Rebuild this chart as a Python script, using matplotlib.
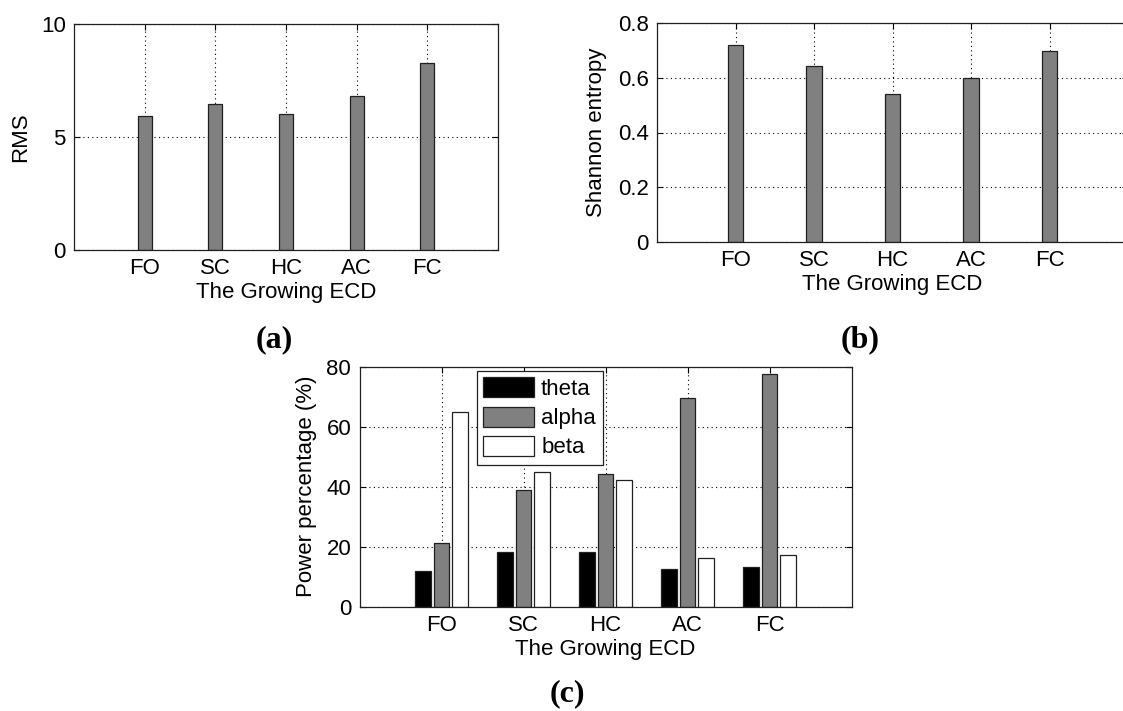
import numpy as np
import matplotlib
matplotlib.use("Agg")
import matplotlib.pyplot as plt

plt.rcParams['font.family'] = ['Liberation Sans', 'DejaVu Sans']

# stages of the growing ECD
stages = ["FO", "SC", "HC", "AC", "FC"]

# (a) RMS per stage
rms = [5.94, 6.44, 6.00, 6.83, 8.29]

# (b) Shannon entropy per stage
entropy = [0.721, 0.643, 0.541, 0.598, 0.699]

# (c) power percentage per band
theta = [11.9, 18.4, 18.4, 12.7, 13.4]
alpha = [21.2, 38.9, 44.2, 69.7, 77.6]
beta = [64.8, 45.0, 42.1, 16.2, 17.1]

W, H = 1123, 711
FS = 16
fig = plt.figure(figsize=(W / 100, H / 100), dpi=100)


def px_axes(left, top, right, bottom):
    return fig.add_axes([left / W, 1 - bottom / H, (right - left) / W, (bottom - top) / H])


def style(ax, yticks, ylabels, ylabel, ylab_x):
    x = np.arange(1, len(stages) + 1)
    ax.set_xlim(0, 6)
    ax.set_xticks(x)
    ax.set_xticklabels(stages)
    ax.set_yticks(yticks)
    ax.set_yticklabels(ylabels)
    ax.set_ylim(yticks[0], yticks[-1])
    ax.set_axisbelow(True)
    ax.grid(True, color='k', linestyle=(0, (1, 3)), linewidth=0.8)
    ax.tick_params(direction='in', length=4, width=0.8, top=True, right=True,
                   labelsize=FS, pad=6)
    for s in ax.spines.values():
        s.set_linewidth(0.9)
        s.set_color('#202020')
    ax.set_xlabel("The Growing ECD", fontsize=FS, labelpad=2)
    ax.set_ylabel(ylabel, fontsize=FS)
    ax.yaxis.set_label_coords(ylab_x, 0.5)
    return x


# (a)
ax1 = px_axes(74, 24, 498, 250)
x = style(ax1, [0, 5, 10], ["0", "5", "10"], "RMS", -0.10)
ax1.bar(x, rms, width=0.2, color='#808080', edgecolor='#202020', linewidth=0.9)

# (b) - right edge runs off the picture, as in the original crop
ax2 = px_axes(657, 23, 1128, 242)
x = style(ax2, [0, 0.2, 0.4, 0.6, 0.8], ["0", "0.2", "0.4", "0.6", "0.8"],
          "Shannon entropy", -0.107)
ax2.bar(x, entropy, width=0.2, color='#808080', edgecolor='#202020', linewidth=0.9)

# (c)
ax3 = px_axes(359.5, 366.7, 851.7, 606.7)
x = style(ax3, [0, 20, 40, 60, 80], ["0", "20", "40", "60", "80"],
          "Power percentage (%)", -0.086)
off = 0.227
bw = 0.19
ax3.bar(x - off, theta, width=bw, color='black', edgecolor='#202020', linewidth=0.9, label="theta")
ax3.bar(x, alpha, width=bw, color='#808080', edgecolor='#202020', linewidth=0.9, label="alpha")
ax3.bar(x + off, beta, width=bw, color='white', edgecolor='#202020', linewidth=0.9, label="beta")
leg = ax3.legend(loc='upper left', bbox_to_anchor=(0.238, 0.983), borderaxespad=0,
                 fontsize=FS, fancybox=False, framealpha=1, edgecolor='#202020',
                 handlelength=2.3, handleheight=1.0, labelspacing=0.3,
                 borderpad=0.3, handletextpad=0.3)
leg.get_frame().set_linewidth(0.9)

# panel labels
lab = dict(family='Liberation Serif', fontweight='bold', fontsize=23,
           ha='center', va='center')
fig.text(274 / W, 1 - 340 / H, "(a)", **lab)
fig.text(860 / W, 1 - 340 / H, "(b)", **lab)
fig.text(567 / W, 1 - 694 / H, "(c)", **lab)

fig.savefig("out.png", dpi=100)
